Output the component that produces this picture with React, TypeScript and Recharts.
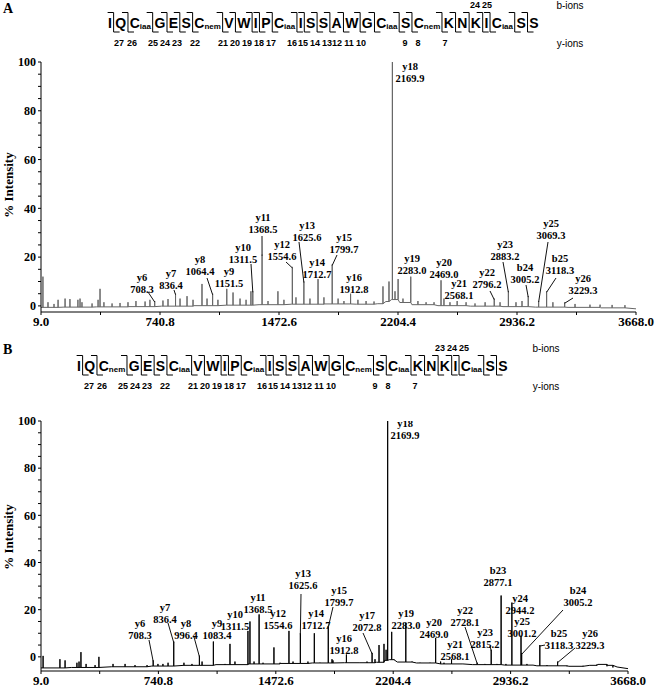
import React from 'react';
import { ComposedChart, Line, Scatter, XAxis, YAxis } from 'recharts';

// ---------- shared axes ----------
const mzTicks = [9.0, 374.9, 740.8, 1106.7, 1472.6, 1838.5, 2204.4, 2570.3, 2936.2, 3302.1, 3668.0];
const mzLabels = [9.0, 740.8, 1472.6, 2204.4, 2936.2, 3668.0];
const intTicks = [0, 5, 10, 15, 20, 25, 30, 35, 40, 45, 50, 55, 60, 65, 70, 75, 80, 85, 90, 95, 100];
const intLabels = [0, 20, 40, 60, 80, 100];

// ---------- peptide ----------
const seqA = ['I', 'Q', 'C_iaa', 'G', 'E', 'S', 'C_nem', 'V', 'W', 'I', 'P', 'C_iaa', 'I', 'S', 'S', 'A', 'W', 'G', 'C_iaa', 'S', 'C_nem', 'K', 'N', 'K', 'I', 'C_iaa', 'S', 'S'];
const seqB = ['I', 'Q', 'C_nem', 'G', 'E', 'S', 'C_iaa', 'V', 'W', 'I', 'P', 'C_iaa', 'I', 'S', 'S', 'A', 'W', 'G', 'C_nem', 'S', 'C_iaa', 'K', 'N', 'K', 'I', 'C_iaa', 'S', 'S'];
const yIonNums = [27, 26, 25, 24, 23, 22, 21, 20, 19, 18, 17, 16, 15, 14, 13, 12, 11, 10, 9, 8, 7];
const bIonNumsA = [24, 25];
const bIonNumsB = [23, 24, 25];

// ---------- spectrum A ----------
const baseA: [number, number][] = [
  [9, -0.6], [150, -0.5], [350, -0.4], [550, -0.3], [750, -0.1], [950, 0.1], [1150, 0.3], [1350, 0.5],
  [1550, 0.7], [1750, 0.8], [1950, 0.7], [2080, 0.9], [2130, 1.8], [2165, 2.6], [2215, 1.4], [2290, 0.5],
  [2450, 0.1], [2650, -0.1], [2850, -0.3], [3050, -0.5], [3250, -0.6], [3450, -0.8], [3668, -1.2],
];
const peaksA: [number, number][] = [
  [21, 12], [52, 1.5], [89, 0.8], [114, 2.5], [157, 3], [187, 2.8], [236, 2.5], [249, 3], [261, 1.5],
  [323, 1], [360, 2.5], [372, 7], [396, 1.5], [446, 1], [495, 1.2], [544, 1.5], [593, 2], [649, 1.8],
  [679, 2.5], [708.3, 2], [759, 2.2], [790, 2.8], [836.4, 5], [864, 3], [907, 4], [944, 2.5], [999, 9],
  [1030, 3], [1064.4, 5], [1097, 2.5], [1151.5, 7], [1190, 5.5], [1233, 3], [1270, 2.5], [1300, 6],
  [1311.5, 6], [1368.5, 21], [1405, 2], [1466, 6], [1503, 2.5], [1554.6, 16], [1577, 3.5], [1625.6, 10],
  [1663, 3], [1712.7, 11], [1749, 3.5], [1799.7, 17], [1836, 3], [1872, 2], [1912.8, 5], [1958, 2.5],
  [2008, 2], [2057, 1.8], [2112, 8], [2149, 10], [2169.9, 100], [2186, 6], [2205, 11], [2235, 3],
  [2283.0, 12], [2327, 2], [2377, 1.5], [2426, 1.5], [2469.0, 10.5], [2487, 3], [2524, 1.5], [2568.1, 2],
  [2623, 1.5], [2678, 1], [2740, 1.5], [2796.2, 3], [2832, 1.5], [2883.2, 6], [2930, 1.5], [2967, 2],
  [3005.2, 4], [3069.3, 2], [3118.3, 6], [3157, 1.5], [3229.3, 1.5], [3293, 0.8], [3385, 0.5],
  [3447, 0.5], [3521, 0.4], [3600, 0.3],
];
const ionsA: [string, number][] = [
  ['y6', 708.3], ['y7', 836.4], ['y8', 1064.4], ['y9', 1151.5], ['y10', 1311.5], ['y11', 1368.5],
  ['y12', 1554.6], ['y13', 1625.6], ['y14', 1712.7], ['y15', 1799.7], ['y16', 1912.8], ['y18', 2169.9],
  ['y19', 2283.0], ['y20', 2469.0], ['y21', 2568.1], ['y22', 2796.2], ['y23', 2883.2], ['b24', 3005.2],
  ['y25', 3069.3], ['b25', 3118.3], ['y26', 3229.3],
];

// ---------- spectrum B ----------
const baseB: [number, number][] = [
  [9, -4.7], [200, -4.5], [450, -4.2], [700, -3.9], [900, -3.6], [1100, -3.3], [1300, -3], [1500, -2.8],
  [1700, -2.6], [1900, -2.5], [2100, -2.3], [2150, -1.5], [2180, -1.2], [2230, -2.2], [2350, -2.6],
  [2500, -3], [2700, -3.3], [2900, -3.5], [3100, -3.8], [3300, -4], [3430, -3.6], [3480, -3.2],
  [3540, -3.6], [3600, -4.3], [3668, -5],
];
const peaksB: [number, number][] = [
  [22, 0.4], [127, -1], [159, -1.5], [233, -2.5], [246, -2], [258, 2], [290, -3], [346, -3.5], [370, 0],
  [458, -3], [533, -3], [595, -3.5], [670, -3.5], [708.3, -1.5], [738, -3], [769, -3], [801, -2.5],
  [836.4, 6.5], [900, -2.5], [950, -3], [996.4, 0.5], [1013, -2], [1083.4, 6.5], [1156, -3], [1187, 5.5],
  [1218, -2], [1299, 11], [1311.5, 15], [1337, -2], [1368.5, 18], [1393, -2.5], [1461, 4], [1499, -2.5],
  [1554.6, 11], [1580, -2], [1625.6, 10], [1673, -2], [1712.7, 10], [1748, -2.5], [1799.7, 13],
  [1823, -1], [1829, -1.5], [1912.8, 1], [1997, -2.5], [2041, -2], [2072.8, 1.7], [2091, -1],
  [2116, 5], [2147, 5.5], [2160, 3], [2169.9, 100], [2195, 10.6], [2209, -1], [2283.0, 14.4],
  [2322, -2], [2372, -2.5], [2434, -2.5], [2469.0, 8], [2500, -2], [2521, -2.5], [2568.1, -1],
  [2639, -3], [2728.1, -2.5], [2776, -3], [2815.2, 3], [2851, -3], [2877.1, 26], [2907, -3],
  [2944.2, 23], [3001.2, 9], [3005.2, 1.5], [3038, -3], [3076, -3.5], [3118.3, 5], [3163, -3.5],
  [3229.3, -2], [3288, -4], [3388, -3.8], [3475, -3.2], [3537, -4], [3574, -4.5],
];
const ionsB: [string, number][] = [
  ['y6', 708.3], ['y7', 836.4], ['y8', 996.4], ['y9', 1083.4], ['y10', 1311.5], ['y11', 1368.5],
  ['y12', 1554.6], ['y13', 1625.6], ['y14', 1712.7], ['y15', 1799.7], ['y16', 1912.8], ['y17', 2072.8],
  ['y18', 2169.9], ['y19', 2283.0], ['y20', 2469.0], ['y21', 2568.1], ['y22', 2728.1], ['y23', 2815.2],
  ['b23', 2877.1], ['y24', 2944.2], ['y25', 3001.2], ['b24', 3005.2], ['b25', 3118.3], ['y26', 3229.3],
];

// ---------- layout (page px): label centre x, first line centre y, optional leader start ----------
const labelPosA: Record<string, number[]> = {
  y6: [142, 277, 148, 292], y7: [171, 273, 174, 290], y8: [200, 259, 207, 278], y9: [229, 271],
  y10: [243, 247, 251, 264], y11: [263, 217, 262, 236], y12: [282, 244, 286, 262], y13: [307, 225, 299, 242],
  y14: [317, 262], y15: [344, 237, 337, 255], y16: [354, 277], y18: [410, 66], y19: [412, 258],
  y20: [444, 262], y21: [459, 283], y22: [487, 272, 490, 291], y23: [505, 244, 503, 262],
  b24: [525, 267, 526, 285], y25: [551, 223, 548, 242], b25: [560, 258, 556, 278], y26: [583, 278, 573, 298],
};
const labelPosB: Record<string, number[]> = {
  y6: [140, 623, 149, 640], y7: [165, 607, 168, 623], y8: [186, 623, 194, 637], y9: [217, 623],
  y10: [235, 614], y11: [258, 597], y12: [278, 613], y13: [303, 573, 301, 594], y14: [316, 613],
  y15: [339, 590, 333, 607], y16: [344, 638], y17: [367, 615, 363, 633], y18: [405, 423], y19: [406, 613],
  y20: [434, 622], y21: [455, 644], y22: [465, 610, 465, 627], y23: [485, 632, 490, 646], b23: [498, 570],
  y24: [520, 598], y25: [522, 621], b24: [578, 590, 563, 610], b25: [559, 633, 545, 645],
  y26: [590, 633, 575, 648],
};
const yNumXA = [119, 132, 153, 165, 177, 195, 223, 235, 247, 259, 271, 292, 303, 315, 327, 337, 349, 361, 405, 418, 445];
const bNumXA = [475, 487];
const bNumXB = [440, 452, 464];

const serif = '"Liberation Serif", "Times New Roman", serif';
const sans = '"Liberation Sans", Arial, sans-serif';

// stick spectrum -> polyline (foot, top, foot) merged with the baseline points
function toTrace(base: [number, number][], peaks: [number, number][]) {
  const rows = base.map(([mz, v]) => ({ mz, v, k: 0 }));
  peaks.forEach(([mz, h]) => {
    let foot = base[0][1];
    base.forEach(([bm, bv]) => { if (bm <= mz) foot = bv; });
    rows.push({ mz, v: foot, k: 1 }, { mz, v: h, k: 2 }, { mz, v: foot, k: 3 });
  });
  return rows.sort((a, b) => a.mz - b.mz || a.k - b.k);
}

const IonLabel = (pos: Record<string, number[]>, offset: number) => (props: any) => {
  const { cx, cy, payload } = props;
  const p = pos[payload.ion];
  if (!p || cx == null) return <g />;
  const x = p[0];
  const y = p[1] - offset;
  return (
    <g>
      {p.length > 2 && (
        <line x1={p[2]} y1={p[3] - offset} x2={cx} y2={cy + 1} stroke="#111" strokeWidth={1} />
      )}
      <text x={x} y={y + 4} textAnchor="middle" fontFamily={serif} fontWeight="bold" fontSize={10.5} fill="#000">
        <tspan x={x}>{payload.ion}</tspan>
        <tspan x={x} dy={11.5}>{payload.mz.toFixed(1)}</tspan>
      </text>
    </g>
  );
};

type SpecProps = {
  top: number; height: number; marginTop: number; marginRight: number; xHeight: number;
  yMin: number; base: [number, number][]; peaks: [number, number][]; ions: [string, number][];
  labels: Record<string, number[]>; color: string;
};

const Spectrum = ({ top, height, marginTop, marginRight, xHeight, yMin, base, peaks, ions, labels, color }: SpecProps) => {
  const trace = toTrace(base, peaks);
  const marks = ions.map(([ion, mz]) => ({ ion, mz, h: (peaks.find((p) => p[0] === mz) || [mz, 0])[1] }));
  return (
    <div style={{ position: 'absolute', left: 0, top }}>
      <ComposedChart width={656} height={height} margin={{ top: marginTop, right: marginRight, bottom: 0, left: 0 }}>
        <XAxis
          type="number" dataKey="mz" domain={[9, 3668]} allowDataOverflow ticks={mzTicks} interval={0}
          tickFormatter={(v: number) => (mzLabels.includes(v) ? v.toFixed(1) : '')}
          height={xHeight} tickSize={3} tickMargin={2} stroke="#000"
          tick={{ fill: '#000', fontSize: 13, fontWeight: 'bold', fontFamily: serif }}
        />
        <YAxis
          type="number" domain={[yMin, 100]} allowDataOverflow ticks={intTicks} interval={0}
          tickFormatter={(v: number) => (intLabels.includes(v) ? String(v) : '')}
          width={41} tickSize={3} tickMargin={2} stroke="#000"
          tick={{ fill: '#000', fontSize: 12, fontWeight: 'bold', fontFamily: serif }}
        />
        <Line data={trace} dataKey="v" type="linear" stroke={color} strokeWidth={1} dot={false} isAnimationActive={false} />
        <Scatter data={marks} dataKey="h" shape={IonLabel(labels, top)} isAnimationActive={false} />
      </ComposedChart>
    </div>
  );
};

// ---------- fragment map ----------
const EM: Record<string, number> = {
  I: 0.278, Q: 0.778, C: 0.722, G: 0.778, E: 0.667, S: 0.667, V: 0.667, W: 0.944, P: 0.667, A: 0.722,
  K: 0.722, N: 0.722, i: 0.278, a: 0.556, n: 0.611, e: 0.556, m: 0.889,
};
const LETTER = 14;
const SUBS = 8;
const GAP = 3.46;

const FragmentMap = ({ seq, left, top, yNumX, bNums, bNumX, ionsX }: {
  seq: string[]; left: number; top: number; yNumX: number[]; bNums: number[]; bNumX: number[]; ionsX: number;
}) => {
  let x = left;
  const cells = seq.map((r) => {
    const [aa, mod] = r.split('_');
    const w = EM[aa] * LETTER;
    const sw = mod ? [...mod].reduce((s, c) => s + EM[c] * SUBS, 0) : 0;
    const cell = { aa, mod, x, w, sw };
    x += w + sw + GAP;
    return cell;
  });
  const seps = cells.slice(0, -1).map((c) => c.x + c.w + c.sw + GAP / 2);
  const yTop = top + 12.5;
  const yBot = top + 32;
  return (
    <g>
      {cells.map((c, i) => (
        <text key={'r' + i} x={c.x} y={top + 27.5} fontFamily={sans} fontWeight="bold" fontSize={LETTER} fill="#000">
          {c.aa}
          {c.mod && <tspan fontSize={SUBS} dy={1.5}>{c.mod}</tspan>}
        </text>
      ))}
      {seps.map((s, i) => (
        <path key={'s' + i} d={`M${s - 6},${yTop}H${s}V${yBot}H${s + 6}`} fill="none" stroke="#000" strokeWidth={1} />
      ))}
      {bNums.map((n, i) => (
        <text key={'b' + i} x={bNumX[i]} y={top + 7.5} textAnchor="middle" fontFamily={sans} fontWeight="bold" fontSize={9}>{n}</text>
      ))}
      {yIonNums.map((n, i) => (
        <text key={'y' + i} x={yNumX[i]} y={top + 46} textAnchor="middle" fontFamily={sans} fontWeight="bold" fontSize={9}>{n}</text>
      ))}
      <text x={ionsX} y={top + 8.5} textAnchor="middle" fontFamily={sans} fontSize={10}>b-ions</text>
      <text x={ionsX} y={top + 46.5} textAnchor="middle" fontFamily={sans} fontSize={10}>y-ions</text>
    </g>
  );
};

const yNumXB = yNumXA.map((v) => v - 30);

export default function App() {
  return (
    <div style={{ position: 'relative', width: 656, height: 688, overflow: 'hidden', background: '#fff' }}>
      <style>{'body{margin:0}'}</style>
      <Spectrum top={0} height={340} marginTop={62} marginRight={20} xHeight={28} yMin={-2.5}
        base={baseA} peaks={peaksA} ions={ionsA} labels={labelPosA} color="#666" />
      <Spectrum top={360} height={328} marginTop={61} marginRight={28} xHeight={17} yMin={-6}
        base={baseB} peaks={peaksB} ions={ionsB} labels={labelPosB} color="#000" />
      <svg width={656} height={688} style={{ position: 'absolute', left: 0, top: 0, pointerEvents: 'none' }}>
        <text x={3} y={13} fontFamily={serif} fontWeight="bold" fontSize={14}>A</text>
        <text x={3} y={354} fontFamily={serif} fontWeight="bold" fontSize={14}>B</text>
        <text transform="translate(13,185) rotate(-90)" textAnchor="middle" fontFamily={serif} fontWeight="bold" fontSize={13}>% Intensity</text>
        <text transform="translate(13,537) rotate(-90)" textAnchor="middle" fontFamily={serif} fontWeight="bold" fontSize={13}>% Intensity</text>
        <FragmentMap seq={seqA} left={108} top={0} yNumX={yNumXA} bNums={bIonNumsA} bNumX={bNumXA} ionsX={570} />
        <FragmentMap seq={seqB} left={77} top={343} yNumX={yNumXB} bNums={bIonNumsB} bNumX={bNumXB} ionsX={546} />
      </svg>
    </div>
  );
}
